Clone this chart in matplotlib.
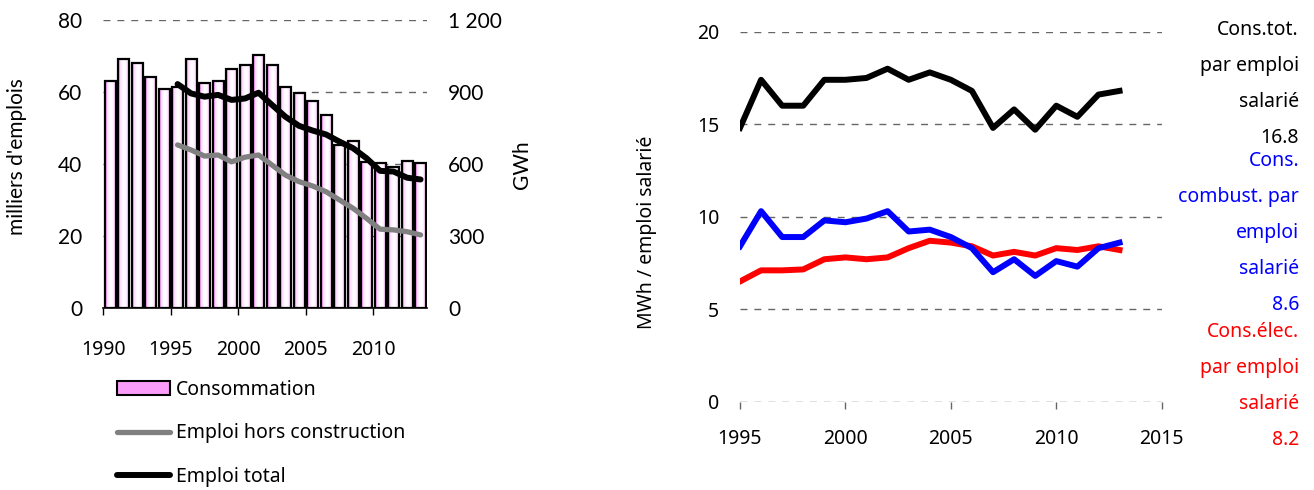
import numpy as np
import matplotlib
matplotlib.use("Agg")
import matplotlib.pyplot as plt
from matplotlib.colors import LinearSegmentedColormap
from matplotlib.lines import Line2D
from matplotlib.patches import Patch

# left chart data
years_cons = list(range(1990, 2014))
consommation = [947, 1037, 1022, 964, 912, 922, 1037, 939, 947, 996, 1014, 1054,
                1014, 921, 897, 862, 803, 678, 697, 610, 603, 589, 612, 603]
years_emploi = list(range(1995, 2014))
emploi_total = [62.2, 59.6, 58.7, 59.2, 57.8, 58.2, 59.8, 56.4, 53.1, 50.6, 49.3,
                48.2, 46.2, 44.4, 41.6, 38.1, 37.9, 36.2, 35.7]
emploi_hors = [45.3, 43.9, 42.2, 42.5, 40.6, 41.9, 42.5, 39.7, 36.9, 35.1, 33.9,
               32.3, 30.0, 27.7, 24.9, 21.9, 21.7, 21.2, 20.3]
gwh_ticks = [0, 300, 600, 900, 1200]
gwh_labels = ["0", "300", "600", "900", "1 200"]
emploi_ticks = [0, 20, 40, 60, 80]
legend_labels = ["Consommation", "Emploi hors construction", "Emploi total"]

# right chart data
years_r = list(range(1995, 2014))
cons_tot = [14.8, 17.4, 16.0, 16.0, 17.4, 17.4, 17.5, 18.0, 17.4, 17.8, 17.4,
            16.8, 14.8, 15.8, 14.7, 16.0, 15.4, 16.6, 16.8]
cons_comb = [8.4, 10.3, 8.9, 8.9, 9.8, 9.7, 9.9, 10.3, 9.2, 9.3, 8.9, 8.3, 7.0,
             7.7, 6.8, 7.6, 7.3, 8.3, 8.6]
cons_elec = [6.5, 7.1, 7.1, 7.15, 7.7, 7.8, 7.7, 7.8, 8.3, 8.7, 8.6, 8.4, 7.9,
             8.1, 7.9, 8.3, 8.2, 8.4, 8.2]
end_labels = [["Cons.tot.", "par emploi", "salarié", "16.8"],
              ["Cons.", "combust. par", "emploi", "salarié", "8.6"],
              ["Cons.élec.", "par emploi", "salarié", "8.2"]]
end_colors = ["black", "#0000ff", "#ff0000"]

W, H = 1314, 490
fig = plt.figure(figsize=(W / 100, H / 100), dpi=100)


def fx(x):
    return x / W


def fy(y):
    return 1 - y / H


TXT = "Noto Sans"
CAL = "Lato"
FS = 14
grid_kw = dict(color="#666666", lw=1, ls=(0, (5, 5)))

# ---- left chart: bars on GWh axis (right), lines on milliers axis (left)
ax = fig.add_axes([fx(103.3), fy(308), fx(427.3) - fx(103.3), fy(20) - fy(308)])
axl = ax.twinx()

bx = [y + 0.5 for y in years_cons]
bars = ax.bar(bx, consommation, width=0.82, facecolor="none", edgecolor="black",
              lw=1.6, zorder=3)
grad_cmap = LinearSegmentedColormap.from_list("pk", ["white", "#ffd0ff", "#ff20ff"])
g = np.abs(np.linspace(-1, 1, 64)) ** 1.8
for b in bars:
    x0 = b.get_x()
    ax.imshow(g[None, :], cmap=grad_cmap, extent=[x0, x0 + b.get_width(), 0, b.get_height()],
              aspect="auto", zorder=2, interpolation="bilinear")
ax.set_xlim(1990, 2014)
ax.set_ylim(0, 1200)
ax.set_axisbelow(True)
ax.yaxis.grid(True, **grid_kw)
ax.yaxis.tick_right()
ax.set_yticks(gwh_ticks)
ax.set_yticklabels(gwh_labels, fontfamily=CAL, fontsize=15)
ax.tick_params(axis="y", length=0, pad=15)
ax.set_xticks(list(range(1990, 2011, 5)))
ax.set_xticklabels([str(v) for v in range(1990, 2011, 5)], fontfamily=TXT, fontsize=FS)
ax.tick_params(axis="x", direction="out", length=5, width=1, pad=18)
for s in ["top", "left", "right"]:
    ax.spines[s].set_visible(False)
ax.spines["bottom"].set_linewidth(1.2)

axl.yaxis.tick_left()
axl.set_ylim(0, 80)
axl.set_yticks(emploi_ticks)
axl.set_yticklabels([str(v) for v in emploi_ticks], fontfamily=CAL, fontsize=15)
axl.tick_params(axis="y", length=0, pad=15)
for s in axl.spines.values():
    s.set_visible(False)
lx = [y + 0.5 for y in years_emploi]
axl.plot(lx, emploi_hors, color="#808080", lw=3.8, solid_capstyle="round")
axl.plot(lx, emploi_total, color="black", lw=4.3, solid_capstyle="round")

fig.text(fx(17), fy(157), "milliers d'emplois", rotation=90, ha="center", va="center",
         fontfamily=CAL, fontsize=15)
fig.text(fx(522), fy(165), "GWh", rotation=90, ha="center", va="center",
         fontfamily=CAL, fontsize=15)

handles = [Patch(facecolor="#fa9cfa", edgecolor="black", lw=1.5),
           Line2D([], [], color="#808080", lw=3.8, solid_capstyle="round"),
           Line2D([], [], color="black", lw=4.3, solid_capstyle="round")]
fig.legend(handles, legend_labels, loc="upper left", bbox_to_anchor=(fx(117), fy(380)),
           frameon=False, borderpad=0, borderaxespad=0, handlelength=2.7, handleheight=0.7,
           handletextpad=0.35, labelspacing=1.2, prop={"family": TXT, "size": FS})

# ---- right chart
ar = fig.add_axes([fx(740), fy(401.7), fx(1161.7) - fx(740), fy(31.7) - fy(401.7)])
ar.set_xlim(1995, 2015)
ar.set_ylim(0, 20)
ar.set_yticks([0, 5, 10, 15, 20])
ar.set_yticklabels(["0", "5", "10", "15", "20"], fontfamily=TXT, fontsize=FS)
ar.yaxis.grid(True, **grid_kw)
ar.tick_params(axis="y", length=0, pad=15)
ar.set_xticks(list(range(1995, 2016, 5)))
ar.set_xticklabels([str(v) for v in range(1995, 2016, 5)], fontfamily=TXT, fontsize=FS)
ar.tick_params(axis="x", direction="out", length=5, width=1, color="#666666", pad=15)
for s in ar.spines.values():
    s.set_visible(False)
ar.plot(years_r, cons_elec, color="#ff0000", lw=4.3)
ar.plot(years_r, cons_comb, color="#0000ff", lw=4.3)
ar.plot(years_r, cons_tot, color="black", lw=4.3)

fig.text(fx(647), fy(232), "MWh / emploi salarié", rotation=90, ha="center", va="center",
         fontfamily=TXT, fontsize=FS)

block_tops = [30, 161, 332]
for lines, col, top in zip(end_labels, end_colors, block_tops):
    for i, t in enumerate(lines):
        fig.text(fx(1299), fy(top + i * 36), t, ha="right", va="center", color=col,
                 fontfamily=TXT, fontsize=FS)

fig.savefig("out.png", dpi=100)
